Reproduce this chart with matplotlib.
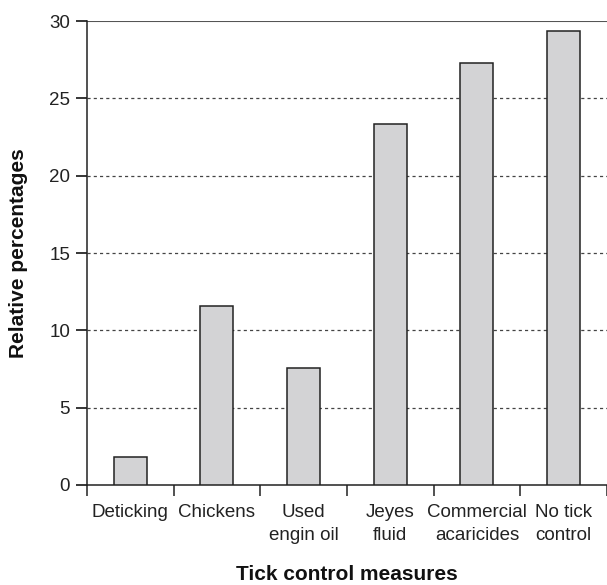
import matplotlib.pyplot as plt
import numpy as np

plt.rcParams['font.family'] = ['Liberation Sans', 'DejaVu Sans']

measures = ['Deticking', 'Chickens', 'Used\nengin oil', 'Jeyes\nfluid',
            'Commercial\nacaricides', 'No tick\ncontrol']
percentages = [1.8, 11.6, 7.55, 23.35, 27.3, 29.35]

fig = plt.figure(figsize=(6.07, 5.85), dpi=100)
ax = fig.add_axes([0.143, 0.171, 0.857, 0.793])

x = np.arange(len(measures))
ax.bar(x, percentages, width=0.38, color='#d3d3d5', edgecolor='#222222',
       linewidth=1.1, zorder=3)

for v in [5, 10, 15, 20, 25]:
    ax.axhline(v, color='#444444', linestyle=(0, (2.5, 2.5)), linewidth=0.9, zorder=1)
ax.axhline(30, color='#555555', linewidth=1.5, zorder=2)

ax.set_xlim(-0.5, len(measures) - 0.5)
ax.set_ylim(0, 30)
ax.set_yticks([0, 5, 10, 15, 20, 25, 30])
ax.set_xticks(np.arange(len(measures) + 1) - 0.5)
ax.set_xticklabels([])
ax.set_xticks(x, minor=True)
ax.set_xticklabels(measures, minor=True, fontsize=13.5, color='#222222')
for t in ax.get_xticklabels(minor=True):
    t.set_linespacing(1.4)
ax.tick_params(axis='x', which='minor', length=0, pad=14)
ax.tick_params(axis='x', which='major', length=8, width=1.1, color='#222222')
ax.tick_params(axis='y', length=8, width=1.1, labelsize=13.5, labelcolor='#222222', pad=4)

for s in ['top', 'right']:
    ax.spines[s].set_visible(False)
ax.spines['left'].set_linewidth(1.1)
ax.spines['bottom'].set_linewidth(1.1)
ax.spines['left'].set_color('#222222')
ax.spines['bottom'].set_color('#222222')

ax.set_xlabel('Tick control measures', fontsize=15, fontweight='bold',
              color='#111111', va='center')
ax.xaxis.set_label_coords(0.5, -0.193)
ax.set_ylabel('Relative percentages', fontsize=15, fontweight='bold',
              color='#111111', va='center')
ax.yaxis.set_label_coords(-0.132, 0.5)

fig.savefig('out.png', dpi=100)
